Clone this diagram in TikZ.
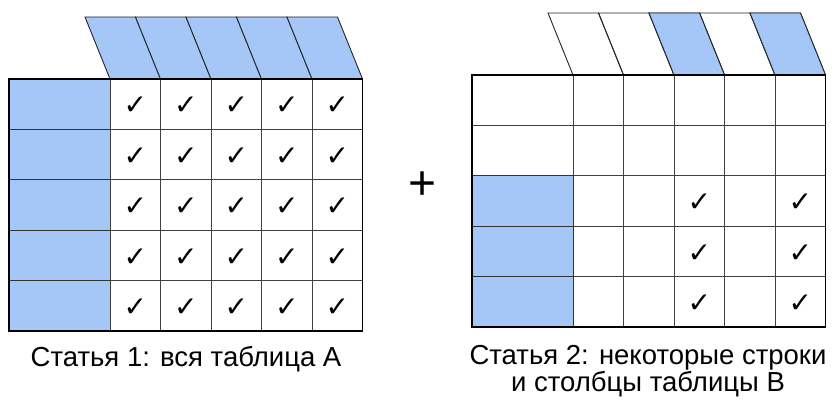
\documentclass[tikz,border=0pt]{standalone}
\usepackage{fontspec}
\setmainfont{Liberation Sans}
\newfontfamily\tickfont{DejaVu Sans}
\definecolor{keyblue}{RGB}{164,199,247}

\tikzset{
  keycell/.style={fill=keyblue, draw=black!80, line width=1pt},
  headcell/.style={draw=black!85, line width=0.9pt},
  bodycell/.style={draw=black!75, line width=1pt},
  frame/.style={draw=black, line width=1.3pt},
  tick/.style={font=\tickfont\bfseries\fontsize{28}{28}\selectfont, inner sep=0pt},
  caption/.style={font=\fontsize{27.5}{27}\selectfont, inner sep=0pt, align=center}
}

\begin{document}
\begin{tikzpicture}[x=1pt, y=-1pt]
  \useasboundingbox (0,0) rectangle (835,401);

  % table A: everything is taken
  \begin{scope}[shift={(9,79)}]
    \foreach \c in {0,...,4}
      \filldraw[headcell, fill=keyblue] (101+50.5*\c,0) -- (76+50.5*\c,-62)
        -- (126.5+50.5*\c,-62) -- (151.5+50.5*\c,0) -- cycle;
    \foreach \r in {0,...,4} {
      \filldraw[keycell] (0,50.4*\r) rectangle ++(101,50.4);
      \foreach \c in {0,...,4} {
        \draw[bodycell] (101+50.5*\c,50.4*\r) rectangle ++(50.5,50.4);
        \node[tick] (a-\r-\c) at (126.25+50.5*\c,50.4*\r+27) {✓};
      }
    }
    \draw[frame] (0,0) rectangle (353.5,252);
  \end{scope}
  \node[caption, anchor=base] (capA) at (186,366) {Статья 1: вся таблица A};

  \node[font=\fontsize{48}{48}\selectfont, inner sep=0pt] (plus) at (423,186) {+};

  % table B: only some rows and columns
  \begin{scope}[shift={(472,75)}]
    \foreach \c in {0,...,4}
      \draw[headcell] (101+50.5*\c,0) -- (76+50.5*\c,-62)
        -- (126.5+50.5*\c,-62) -- (151.5+50.5*\c,0) -- cycle;
    \foreach \c in {2,4}
      \filldraw[headcell, fill=keyblue] (101+50.5*\c,0) -- (76+50.5*\c,-62)
        -- (126.5+50.5*\c,-62) -- (151.5+50.5*\c,0) -- cycle;
    \foreach \r in {0,...,4} {
      \draw[bodycell] (0,50.4*\r) rectangle ++(101,50.4);
      \foreach \c in {0,...,4}
        \draw[bodycell] (101+50.5*\c,50.4*\r) rectangle ++(50.5,50.4);
    }
    \foreach \r in {2,3,4} {
      \filldraw[keycell] (0,50.4*\r) rectangle ++(101,50.4);
      \foreach \c in {2,4}
        \node[tick] (b-\r-\c) at (126.25+50.5*\c,50.4*\r+27) {✓};
    }
    \draw[frame] (0,0) rectangle (353.5,252);
  \end{scope}
  \node[caption, anchor=north] (capB) at (648,345)
    {Статья 2: некоторые строки\\и столбцы таблицы B};
\end{tikzpicture}
\end{document}
